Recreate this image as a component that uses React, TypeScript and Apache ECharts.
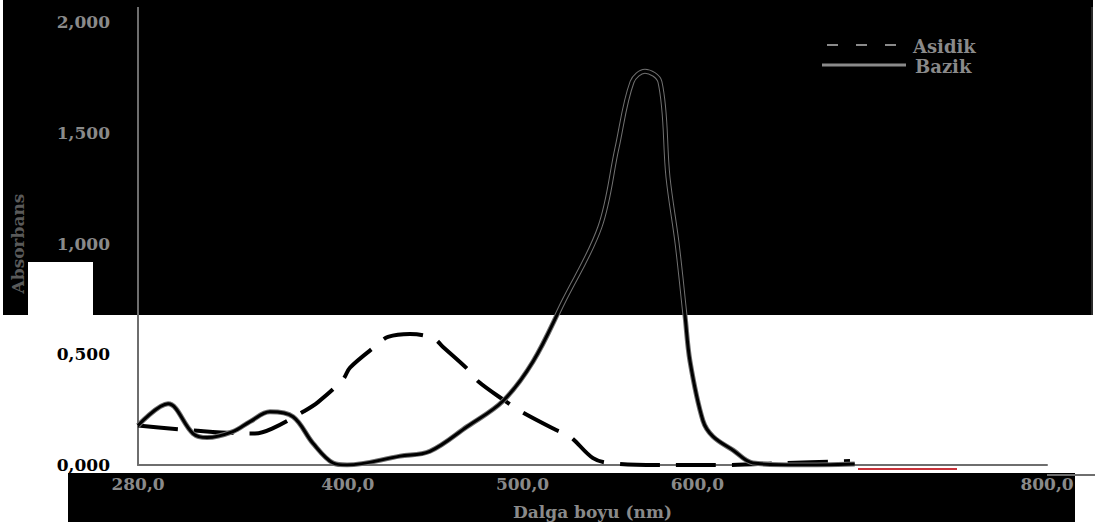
import React, { useEffect, useRef } from "react";
import * as echarts from "echarts";

// Wavelength ticks (nm) and absorbance ticks
const xTicks = [280, 400, 500, 600, 800];
const yTicks = [0, 0.5, 1, 1.5, 2];

// Acidic solution spectrum
const asidikNm = [280, 311.5, 346.9, 356.7, 374.4, 383.0, 397.3, 401.3, 416.7, 423.0, 435.6, 448.8, 454.5, 468.8, 474.5, 490.0, 498.5, 518.6, 527.1, 540.3, 550.0, 576.9, 613.0, 650.1, 687.3];
const asidikAbs = [0.178, 0.156, 0.142, 0.164, 0.240, 0.284, 0.387, 0.440, 0.542, 0.578, 0.591, 0.573, 0.533, 0.431, 0.378, 0.289, 0.244, 0.160, 0.129, 0.031, 0.009, 0.0, 0.0, 0.009, 0.018];

// Basic solution spectrum
const bazikNm = [280, 297.2, 311.5, 319.5, 334.3, 344.1, 355.5, 368.7, 380.1, 391.6, 399.6, 429.9, 447.0, 468.2, 488.8, 506.0, 523.1, 544.3, 554.0, 562.6, 570.0, 578.6, 583.2, 588.4, 592.9, 595.8, 603.2, 608.9, 620.4, 631.8, 658.7, 690.0];
const bazikAbs = [0.178, 0.276, 0.142, 0.124, 0.151, 0.196, 0.240, 0.218, 0.098, 0.009, 0.0, 0.040, 0.062, 0.173, 0.289, 0.467, 0.733, 1.076, 1.431, 1.729, 1.778, 1.729, 1.298, 1.0, 0.676, 0.467, 0.200, 0.129, 0.067, 0.009, 0.0, 0.005];

const legendNames = ["Asidik", "Bazik"];

const FONT = "DejaVu Serif";
const GREY = "#8a8a8a";

const pairs = (xs: number[], ys: number[]) => xs.map((x, i) => [x, ys[i]]);
const comma = (v: number, d: number) => v.toFixed(d).replace(".", ",");

export default function App() {
  const ref = useRef<HTMLDivElement>(null);

  useEffect(() => {
    if (!ref.current) return;
    const chart = echarts.init(ref.current, null, { renderer: "svg" });
    const legendText = {
      fill: GREY,
      fontFamily: FONT,
      fontSize: 18,
      fontWeight: "bold",
      verticalAlign: "middle",
    };
    chart.setOption({
      animation: false,
      backgroundColor: "#ffffff",
      grid: { left: 138, right: 48, top: 22, bottom: 53 },
      graphic: [
        // dark scanned bands behind the plot
        { type: "rect", z: -100, silent: true, shape: { x: 3, y: 0, width: 1090, height: 315 }, style: { fill: "#000" } },
        { type: "rect", z: -99, silent: true, shape: { x: 28, y: 262, width: 65, height: 53 }, style: { fill: "#fff" } },
        { type: "rect", z: -100, silent: true, shape: { x: 68, y: 473, width: 1007, height: 49 }, style: { fill: "#000" } },
        { type: "line", z: 50, silent: true, shape: { x1: 138, y1: 7, x2: 138, y2: 22 }, style: { stroke: "#6e6e6e", lineWidth: 2 } },
        { type: "line", z: 50, silent: true, shape: { x1: 1092, y1: 7, x2: 1092, y2: 315 }, style: { stroke: "#555", lineWidth: 1 } },
        { type: "line", z: 50, silent: true, shape: { x1: 1047, y1: 475, x2: 1095, y2: 475 }, style: { stroke: "#6e6e6e", lineWidth: 2 } },
        { type: "line", z: 50, silent: true, shape: { x1: 858, y1: 469, x2: 957, y2: 469 }, style: { stroke: "#c8323a", lineWidth: 2 } },
        // legend
        { type: "line", z: 50, silent: true, shape: { x1: 827, y1: 45, x2: 898, y2: 45 }, style: { stroke: GREY, lineWidth: 2, lineDash: [11, 18] } },
        { type: "text", z: 50, silent: true, x: 913, y: 46, style: { ...legendText, text: legendNames[0] } },
        { type: "line", z: 50, silent: true, shape: { x1: 822, y1: 65, x2: 906, y2: 65 }, style: { stroke: GREY, lineWidth: 3 } },
        { type: "text", z: 50, silent: true, x: 915, y: 66, style: { ...legendText, text: legendNames[1] } },
      ],
      xAxis: {
        type: "value",
        min: 280,
        max: 800,
        name: "Dalga boyu (nm)",
        nameLocation: "middle",
        nameGap: 38,
        nameTextStyle: { color: GREY, fontFamily: FONT, fontSize: 17, fontWeight: "bold" },
        axisLine: { show: true, lineStyle: { color: "#6e6e6e", width: 2 } },
        axisTick: { show: false },
        splitLine: { show: false },
        axisLabel: {
          customValues: xTicks,
          margin: 10,
          color: GREY,
          fontFamily: FONT,
          fontSize: 17,
          fontWeight: "bold",
          formatter: (v: number) => comma(v, 1),
        },
      },
      yAxis: {
        type: "value",
        min: 0,
        max: 2,
        name: "Absorbans",
        nameLocation: "middle",
        nameGap: 112,
        nameRotate: 90,
        nameTextStyle: { color: "#5a5a5a", fontFamily: FONT, fontSize: 17, fontWeight: "bold" },
        axisLine: { show: true, lineStyle: { color: "#6e6e6e", width: 2 } },
        axisTick: { show: false },
        splitLine: { show: false },
        axisLabel: {
          customValues: yTicks,
          margin: 28,
          fontFamily: FONT,
          fontSize: 17,
          fontWeight: "bold",
          color: (v: any) => (Number(v) >= 1 ? GREY : "#000"),
          formatter: (v: number) => comma(v, 3),
        },
      },
      series: [
        {
          name: legendNames[0],
          type: "line",
          smooth: 0.35,
          symbol: "none",
          z: 3,
          lineStyle: { color: "#000", width: 4, type: [40, 16] },
          itemStyle: { color: "#000" },
          data: pairs(asidikNm, asidikAbs),
        },
        {
          name: "BazikEdge",
          type: "line",
          smooth: 0.35,
          symbol: "none",
          z: 4,
          lineStyle: { color: "#707070", width: 5 },
          data: pairs(bazikNm, bazikAbs),
        },
        {
          name: legendNames[1],
          type: "line",
          smooth: 0.35,
          symbol: "none",
          z: 5,
          lineStyle: { color: "#000", width: 3 },
          itemStyle: { color: "#000" },
          data: pairs(bazikNm, bazikAbs),
        },
      ],
    });
    return () => chart.dispose();
  }, []);

  return (
    <div
      ref={ref}
      style={{ position: "fixed", left: 0, top: 0, width: 1095, height: 525 }}
    />
  );
}
